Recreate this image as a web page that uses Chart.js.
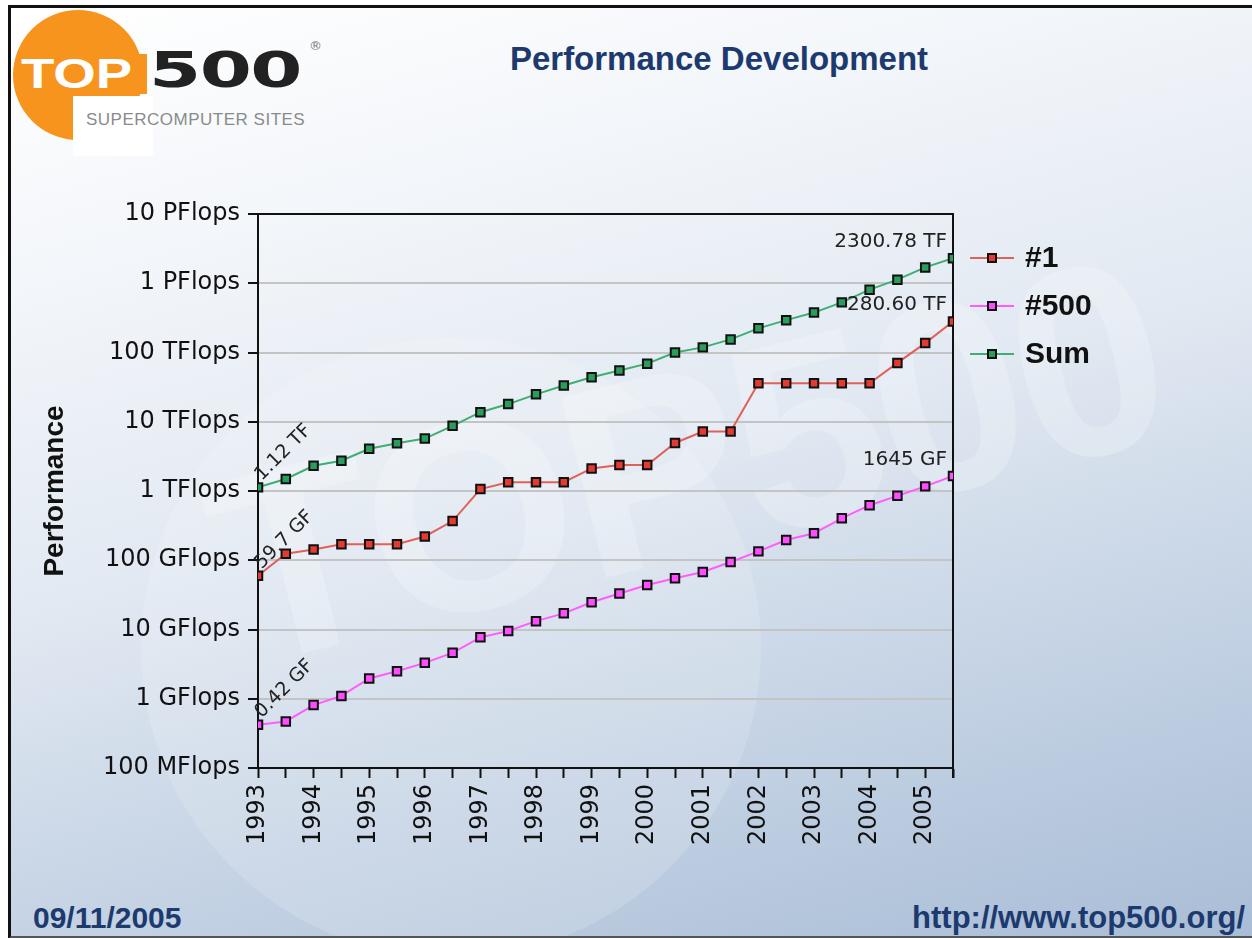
<!DOCTYPE html>
<html>
<head>
<meta charset="utf-8">
<script src="https://cdn.jsdelivr.net/npm/chart.js@4.4.1/dist/chart.umd.min.js"></script>
<style>
  html, body { margin: 0; padding: 0; }
  body { width: 1252px; height: 938px; position: relative; overflow: hidden; background: #fff; }
  #page {
    position: absolute; left: 8px; top: 5px; width: 1244px; height: 928px;
    border-left: 3px solid #111; border-top: 3px solid #111; border-bottom: 3px solid #555;
    background: linear-gradient(165deg, #ffffff 0%, #f3f6fa 22%, #e2e9f2 48%, #c6d4e5 72%, #a9bdd6 100%);
    overflow: hidden;
  }
  #mark {
    position: absolute; left: 170px; top: 420px; font: bold 270px "Liberation Sans", Arial, sans-serif;
    color: rgba(255,255,255,0.22); transform: rotate(-14deg); transform-origin: left top; letter-spacing: -6px;
  }
  #ring {
    position: absolute; left: 130px; top: 330px; width: 620px; height: 620px; border-radius: 50%;
    background: rgba(255,255,255,0.15);
  }
  #logoCircle {
    position: absolute; left: 2px; top: 2px; width: 130px; height: 130px; border-radius: 50%;
    background: #f7941d;
  }
  #logoBand { position: absolute; left: 60px; top: 46px; width: 76px; height: 40px; background: #f7941d; }
  #logoCut1 { position: absolute; left: 62px; top: 88px; width: 80px; height: 60px; background: #fff; }
  #logoTop {
    position: absolute; left: 10px; top: 42px; font: bold 42px "Liberation Sans", Arial, sans-serif;
    color: #fff; transform: scaleX(1.3); transform-origin: left top;
  }
  #logo500 {
    position: absolute; left: 138px; top: 33px; font: bold 50px "DejaVu Sans", sans-serif;
    color: #222; transform: scaleX(1.5); transform-origin: left top; letter-spacing: -1px;
  }
  #logoReg { position: absolute; left: 298px; top: 30px; font: 13px "DejaVu Sans", sans-serif; color: #777; }
  #logoSub {
    position: absolute; left: 75px; top: 102px; font: 17px "Liberation Sans Narrow", "Liberation Sans", sans-serif;
    color: #8a8a8a; letter-spacing: 0.5px;
  }
  #title {
    position: absolute; left: 458px; top: 32px; width: 500px; text-align: center;
    font: bold 33px "Liberation Sans", Arial, sans-serif; color: #1d3a6e;
  }
  #date {
    position: absolute; left: 22px; top: 893px; font: bold 30px "Liberation Sans Narrow", "Liberation Sans", sans-serif;
    color: #1d3a6e;
  }
  #url {
    position: absolute; right: 10px; top: 892px; font: bold 31px "Liberation Sans Narrow", "Liberation Sans", sans-serif;
    color: #1d3a6e;
  }
  canvas { position: absolute; left: 0; top: 0; }
</style>
</head>
<body>
<div id="page">
  <div id="ring"></div>
  <div id="mark">TOP500</div>
  <div id="logoCircle"></div>
  <div id="logoBand"></div>
  <div id="logoCut1"></div>
  <div id="logoTop">TOP</div>
  <div id="logo500">500</div>
  <div id="logoReg">®</div>
  <div id="logoSub">SUPERCOMPUTER SITES</div>
  <div id="title">Performance Development</div>
  <div id="date">09/11/2005</div>
  <div id="url">http://www.top500.org/</div>
</div>
<canvas id="perf" width="1252" height="938"></canvas>
<script>
// list dates (half years), performance in GFlops
var listDates = [1993, 1993.5, 1994, 1994.5, 1995, 1995.5, 1996, 1996.5, 1997, 1997.5, 1998, 1998.5, 1999,
    1999.5, 2000, 2000.5, 2001, 2001.5, 2002, 2002.5, 2003, 2003.5, 2004, 2004.5, 2005, 2005.5];
var rank1 = [59.7, 124, 143.4, 170.4, 170.4, 170.4, 220.4, 368.2, 1068, 1338, 1338, 1338, 2121,
    2379, 2379, 4938, 7226, 7226, 35860, 35860, 35860, 35860, 35860, 70720, 136800, 280600];
var rank500 = [0.42, 0.47, 0.81, 1.1, 1.96, 2.5, 3.3, 4.6, 7.7, 9.5, 13.2, 17.1, 24.7,
    33.1, 43.8, 55.1, 67.8, 94.3, 134.3, 196, 245.1, 403.4, 624, 850.6, 1166, 1645];
var sumPerf = [1128, 1493, 2317, 2731, 4079, 4897, 5720, 8730, 13730, 18000, 24870, 33440, 43920,
    55000, 69000, 100000, 118600, 154500, 223100, 293200, 377200, 529400, 807900, 1127000, 1694000, 2300780];

var seriesNames = ['#1', '#500', 'Sum'];
var firstLabels = ['59.7 GF', '0.42 GF', '1.12 TF'];
var lastLabels = ['280.60 TF', '1645 GF', '2300.78 TF'];

var yTickValues = [0.1, 1, 10, 100, 1000, 10000, 100000, 1000000, 10000000];
var yTickLabels = ['100 MFlops', '1 GFlops', '10 GFlops', '100 GFlops', '1 TFlops', '10 TFlops',
    '100 TFlops', '1 PFlops', '10 PFlops'];

var lineColors = ['#e0605a', '#ff5cff', '#3fae72'];
var markColors = ['#e33a32', '#ff4cff', '#2a9c5c'];

function toPoints(vals) {
    return vals.map(function(v, i) { return { x: listDates[i], y: v }; });
}

// frame round the plot area (top + right lines)
var framePlugin = {
    id: 'frame',
    beforeDatasetsDraw: function(chart) {
        var a = chart.chartArea, c = chart.ctx;
        c.save();
        c.strokeStyle = '#111';
        c.lineWidth = 2;
        c.beginPath();
        c.moveTo(a.left - 10, a.top);
        c.lineTo(a.right, a.top);
        c.lineTo(a.right, a.bottom + 10);
        c.stroke();
        c.restore();
    }
};

// value labels at first / last points + legend
var labelPlugin = {
    id: 'labels',
    afterDraw: function(chart) {
        var c = chart.ctx, a = chart.chartArea;
        c.save();
        c.fillStyle = '#222';
        chart.data.datasets.forEach(function(ds, i) {
            var pts = chart.getDatasetMeta(i).data;
            var p0 = pts[0], pn = pts[pts.length - 1];

            c.save();
            c.font = '19px "DejaVu Sans", sans-serif';
            c.translate(p0.x + 7, p0.y - 3);
            c.rotate(-Math.PI / 4);
            c.textAlign = 'left';
            c.textBaseline = 'bottom';
            c.fillText(firstLabels[i], 0, 0);
            c.restore();

            c.font = '20px "DejaVu Sans", sans-serif';
            c.textAlign = 'right';
            c.textBaseline = 'alphabetic';
            c.fillText(lastLabels[i], pn.x - 6, pn.y - 11);
        });

        // legend
        chart.data.datasets.forEach(function(ds, i) {
            var lx = a.right + 17, ly = a.top + 44 + i * 48;
            c.strokeStyle = lineColors[i];
            c.lineWidth = 2;
            c.beginPath();
            c.moveTo(lx, ly);
            c.lineTo(lx + 44, ly);
            c.stroke();
            c.fillStyle = markColors[i];
            c.fillRect(lx + 18, ly - 4, 8, 8);
            c.strokeStyle = '#111';
            c.strokeRect(lx + 18, ly - 4, 8, 8);
            c.fillStyle = '#111';
            c.font = 'bold 30px "Liberation Sans", Arial, sans-serif';
            c.textAlign = 'left';
            c.textBaseline = 'middle';
            c.fillText(ds.label, lx + 55, ly + 1);
        });
        c.restore();
    }
};

var datasets = [rank1, rank500, sumPerf].map(function(vals, i) {
    return {
        label: seriesNames[i],
        data: toPoints(vals),
        borderColor: lineColors[i],
        borderWidth: 2,
        pointStyle: 'rect',
        pointRadius: 6,
        pointBackgroundColor: markColors[i],
        pointBorderColor: '#111',
        pointBorderWidth: 2,
        tension: 0
    };
});

var ctx = document.getElementById('perf').getContext('2d');
window.perfChart = new Chart(ctx, {
    type: 'line',
    data: { datasets: datasets },
    options: {
        responsive: false,
        animation: false,
        layout: { padding: { left: 0, top: 214, right: 299, bottom: 50 } },
        plugins: {
            legend: { display: false },
            tooltip: { enabled: false }
        },
        scales: {
            x: {
                type: 'linear',
                min: 1993,
                max: 2005.5,
                afterFit: function(scale) { scale.height = 120; },
                ticks: {
                    stepSize: 0.5,
                    autoSkip: false,
                    maxRotation: 90,
                    minRotation: 90,
                    padding: 6,
                    color: '#111',
                    font: { family: '"DejaVu Sans", sans-serif', size: 24 },
                    callback: function(v) { return Number.isInteger(v) ? String(v) : ''; }
                },
                grid: { drawOnChartArea: false, drawTicks: true, tickLength: 10, tickColor: '#111', tickWidth: 2 },
                border: { display: true, color: '#111', width: 2 }
            },
            y: {
                type: 'logarithmic',
                min: 0.1,
                max: 10000000,
                afterFit: function(scale) { scale.width = 258; },
                afterBuildTicks: function(scale) {
                    scale.ticks = yTickValues.map(function(v) { return { value: v }; });
                },
                ticks: {
                    autoSkip: false,
                    padding: 8,
                    color: '#111',
                    font: { family: '"DejaVu Sans", sans-serif', size: 24 },
                    callback: function(v) { return yTickLabels[yTickValues.indexOf(v)]; }
                },
                grid: { color: '#c4c4c4', lineWidth: 2, tickLength: 10, tickColor: '#111', tickWidth: 2 },
                border: { display: true, color: '#111', width: 2 },
                title: {
                    display: true,
                    text: 'Performance',
                    color: '#111',
                    padding: { top: 38, bottom: 0 },
                    font: { family: '"Liberation Sans", Arial, sans-serif', size: 28, weight: 'bold' }
                }
            }
        }
    },
    plugins: [framePlugin, labelPlugin]
});
</script>
</body>
</html>
